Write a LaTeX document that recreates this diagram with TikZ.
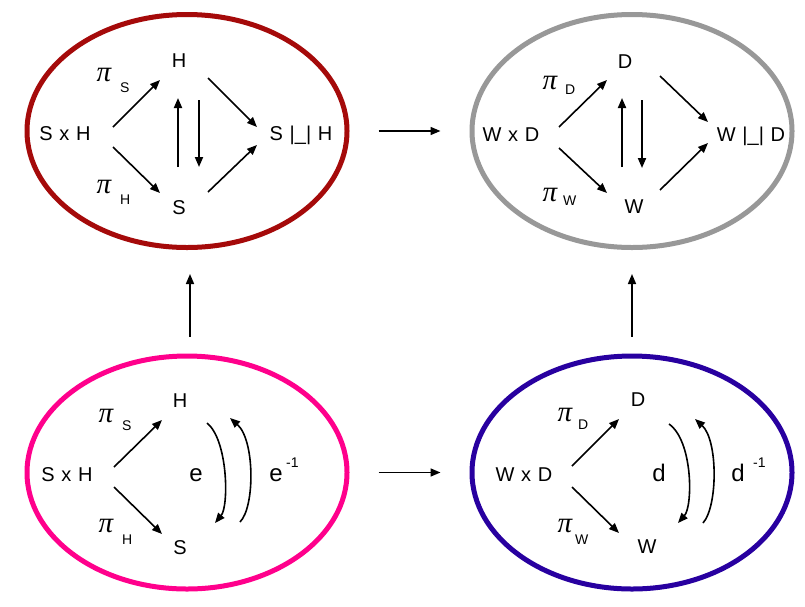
\documentclass[tikz,border=0pt]{standalone}
\usepackage{fontspec}
\setmainfont{Liberation Sans}[WordSpace=1.2]
\newfontfamily\pifont{Liberation Serif}
\usetikzlibrary{shapes.geometric,arrows.meta}
\definecolor{ringred}{RGB}{165,10,10}
\definecolor{ringpink}{RGB}{255,0,140}
\definecolor{ringgray}{RGB}{152,152,152}
\definecolor{ringblue}{RGB}{40,0,160}
\begin{document}
\begin{tikzpicture}[x=1pt,y=-1pt,
  ring/.style={ellipse, draw=#1, line width=5pt, minimum width=320pt, minimum height=233pt, inner sep=0pt},
  lbl/.style={anchor=base, inner sep=0pt, font=\fontsize{20}{22}\selectfont},
  big/.style={anchor=base, inner sep=0pt, font=\fontsize{24}{26}\selectfont},
  sub/.style={anchor=base west, inner sep=0pt, font=\fontsize{14}{16}\selectfont},
  pisym/.style={anchor=base, inner sep=0pt, font=\fontsize{29}{31}\pifont\itshape},
  arr/.style={-{Triangle[length=10pt,width=8pt]}, line width=1.6pt},
  bigarr/.style={-{Triangle[length=10pt,width=8pt]}, line width=1.6pt}]
\fill[white] (0,0) rectangle (805,606);
\useasboundingbox (0,0) rectangle (805,606);

% ellipses
\node[ring=ringred]  (tl) at (187,131) {};
\node[ring=ringgray] (tr) at (632,131) {};
\node[ring=ringpink] (bl) at (187,472.5) {};
\node[ring=ringblue] (br) at (632,472.5) {};

% arrows between ellipses
\draw[bigarr, shorten <=29pt, shorten >=29pt] (tl) -- (tr);
\draw[bigarr, shorten <=29pt, shorten >=29pt] (bl) -- (br);
\draw[bigarr, shorten <=17pt, shorten >=24pt] ([xshift=3pt]bl.north) -- ([xshift=3pt]tl.south);
\draw[bigarr, shorten <=17pt, shorten >=24pt] (br.north) -- (tr.south);

% ---------- top left ----------
\node[lbl] (tlH) at (179,67) {H};
\node[lbl] (tlP) at (65,140) {S x H};
\node[lbl] (tlC) at (301,140) {S |\_| H};
\node[lbl] (tlS) at (179,214) {S};
\node[pisym] (tlpi1) at (104,81) {π};
\node[sub] (tlpi1s) at (120,92) {S};
\node[pisym] (tlpi2) at (104,193) {π};
\node[sub] (tlpi2s) at (120,204) {H};
\coordinate (tla1) at (113,127); \coordinate (tla2) at (160,80);
\coordinate (tlb1) at (113,147); \coordinate (tlb2) at (160,193);
\coordinate (tlc1) at (208,78);  \coordinate (tlc2) at (257,127);
\coordinate (tld1) at (208,192); \coordinate (tld2) at (257,145);
\coordinate (tlu1) at (178,167); \coordinate (tlu2) at (178,98);
\coordinate (tlv1) at (199,100); \coordinate (tlv2) at (199,167);
\draw[arr] (tla1) -- (tla2);
\draw[arr] (tlb1) -- (tlb2);
\draw[arr] (tlc1) -- (tlc2);
\draw[arr] (tld1) -- (tld2);
\draw[arr, line width=1.9pt] (tlu1) -- (tlu2);
\draw[arr, line width=1.9pt] (tlv1) -- (tlv2);

% ---------- top right ----------
\node[lbl] (trD) at (625,68) {D};
\node[lbl] (trP) at (511,141) {W x D};
\node[lbl] (trC) at (751,141) {W |\_| D};
\node[lbl] (trW) at (634,213) {W};
\node[pisym] (trpi1) at (550,89) {π};
\node[sub] (trpi1s) at (565,94) {D};
\node[pisym] (trpi2) at (550,201) {π};
\node[sub] (trpi2s) at (563,205) {W};
\coordinate (tra1) at (559,127); \coordinate (tra2) at (607,80);
\coordinate (trb1) at (559,148); \coordinate (trb2) at (607,193);
\coordinate (trc1) at (660,76);  \coordinate (trc2) at (708,122);
\coordinate (trd1) at (660,190); \coordinate (trd2) at (708,143);
\coordinate (tru1) at (622,167); \coordinate (tru2) at (622,98);
\coordinate (trv1) at (642,100); \coordinate (trv2) at (642,168);
\draw[arr] (tra1) -- (tra2);
\draw[arr] (trb1) -- (trb2);
\draw[arr] (trc1) -- (trc2);
\draw[arr] (trd1) -- (trd2);
\draw[arr, line width=1.9pt] (tru1) -- (tru2);
\draw[arr, line width=1.9pt] (trv1) -- (trv2);

% ---------- bottom left ----------
\node[lbl] (blH) at (180,407) {H};
\node[lbl] (blP) at (67,481) {S x H};
\node[lbl] (blS) at (180,554) {S};
\node[pisym] (blpi1) at (106,422) {π};
\node[sub] (blpi1s) at (122,430) {S};
\node[pisym] (blpi2) at (106,532) {π};
\node[sub] (blpi2s) at (122,544) {H};
\node[big] (ble) at (196,481) {e};
\node[big] (blei) at (276,481) {e};
\node[sub] (bleis) at (286,467) {-1};
\coordinate (bla1) at (114,467); \coordinate (bla2) at (162,420);
\coordinate (blb1) at (114,487); \coordinate (blb2) at (162,534);
\coordinate (blc1) at (207,423); \coordinate (blc2) at (215,523);
\coordinate (bld1) at (240,522); \coordinate (bld2) at (230,418);
\draw[arr] (bla1) -- (bla2);
\draw[arr] (blb1) -- (blb2);
\draw[arr] (blc1) .. controls (228,440) and (229,506) .. (blc2);
\draw[arr] (bld1) .. controls (255,507) and (255,440) .. (bld2);

% ---------- bottom right ----------
\node[lbl] (brD) at (638,406) {D};
\node[lbl] (brP) at (524,481) {W x D};
\node[lbl] (brW) at (647,553) {W};
\node[pisym] (brpi1) at (565,421) {π};
\node[sub] (brpi1s) at (578,429) {D};
\node[pisym] (brpi2) at (565,532) {π};
\node[sub] (brpi2s) at (575,544) {W};
\node[big] (brd) at (659,481) {d};
\node[big] (brdi) at (738,481) {d};
\node[sub] (brdis) at (753,467) {-1};
\coordinate (bra1) at (572,466); \coordinate (bra2) at (619,419);
\coordinate (brb1) at (572,487); \coordinate (brb2) at (619,533);
\coordinate (brc1) at (669,424); \coordinate (brc2) at (678,523);
\coordinate (brd1) at (703,523); \coordinate (brd2) at (695,419);
\draw[arr] (bra1) -- (bra2);
\draw[arr] (brb1) -- (brb2);
\draw[arr] (brc1) .. controls (693,441) and (693,506) .. (brc2);
\draw[arr] (brd1) .. controls (718,506) and (718,440) .. (brd2);
\end{tikzpicture}
\end{document}
